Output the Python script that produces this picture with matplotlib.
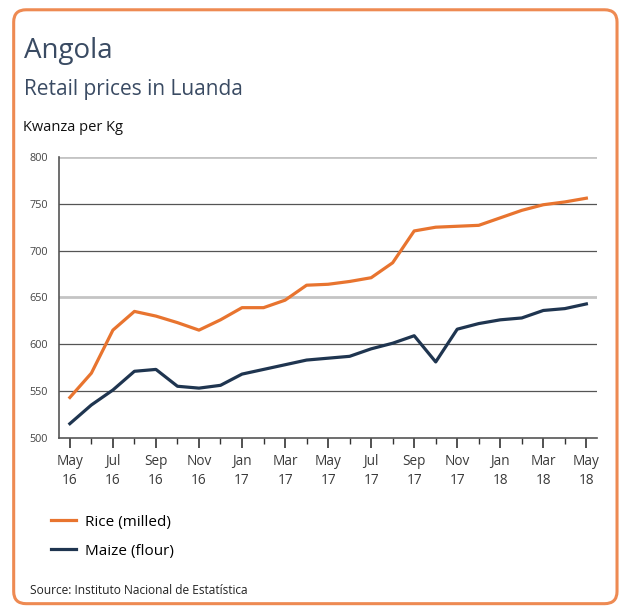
import matplotlib
matplotlib.use("Agg")
import matplotlib.pyplot as plt
from matplotlib.patches import FancyBboxPatch
import numpy as np

# Monthly retail prices, May 2016 - May 2018 (Kwanza per Kg)
months = ["May\n16", "", "Jul\n16", "", "Sep\n16", "", "Nov\n16", "", "Jan\n17", "",
          "Mar\n17", "", "May\n17", "", "Jul\n17", "", "Sep\n17", "", "Nov\n17", "",
          "Jan\n18", "", "Mar\n18", "", "May\n18"]
rice = [543, 569, 615, 635, 630, 623, 615, 626, 639, 639, 647, 663, 664,
        667, 671, 687, 721, 725, 726, 727, 735, 743, 749, 752, 756]
maize = [515, 535, 551, 571, 573, 555, 553, 556, 568, 573, 578, 583, 585,
         587, 595, 601, 609, 581, 616, 622, 626, 628, 636, 638, 643]
yticks = [500, 550, 600, 650, 700, 750, 800]

ORANGE = "#E8742F"
NAVY = "#1F3550"
TITLE = "#3A4B63"

plt.rcParams['font.family'] = ['Open Sans', 'DejaVu Sans']

fig = plt.figure(figsize=(6.22, 6.11), dpi=100)

# rounded orange frame
frame = FancyBboxPatch((0.022, 0.012), 0.97, 0.972,
                       boxstyle="round,pad=0,rounding_size=0.02",
                       transform=fig.transFigure, facecolor="none",
                       edgecolor="#EE8A52", linewidth=2.2, zorder=-1)
fig.patches.append(frame)

fig.text(0.038, 0.905, "Angola", fontsize=20, color=TITLE)
fig.text(0.038, 0.845, "Retail prices in Luanda", fontsize=15, color=TITLE)
fig.text(0.037, 0.785, "Kwanza per Kg", fontsize=10.5, color="#111111")

ax = fig.add_axes([0.095, 0.2836, 0.865, 0.4594])
ax.set_facecolor("none")
x = np.arange(len(months))
ax.plot(x, rice, color=ORANGE, lw=2.3, label="Rice (milled)", zorder=3)
ax.plot(x, maize, color=NAVY, lw=2.3, label="Maize (flour)", zorder=3)

ax.set_xlim(-0.5, 24.5)
ax.set_ylim(500, 800)
ax.set_yticks(yticks)
ax.set_yticklabels([str(v) for v in yticks], fontsize=7.8, color="#444444")
ax.tick_params(axis="y", length=0, pad=8)

for v in yticks[1:]:
    if v in (650, 800):
        ax.axhline(v, color="#C4C4C4", lw=2, zorder=1)
    else:
        ax.axhline(v, color="#555555", lw=0.9, zorder=1)

ax.set_xticks(x[::2])
ax.set_xticklabels([m for m in months if m], fontsize=9.8, color="#3A3A3A",
                   linespacing=1.35)
ax.set_xticks(x, minor=True)
ax.tick_params(axis="x", which="major", length=7, width=1.2, color="#333333", pad=5)
ax.tick_params(axis="x", which="minor", length=4, width=1, color="#333333")

for s in ["top", "right"]:
    ax.spines[s].set_visible(False)
ax.spines["left"].set_color("#555555")
ax.spines["bottom"].set_color("#555555")
ax.spines["left"].set_linewidth(1.2)
ax.spines["bottom"].set_linewidth(1.2)

fig.legend(loc="upper left", bbox_to_anchor=(0.06, 0.18), frameon=False,
           fontsize=11, handlelength=1.6, handletextpad=0.6, labelspacing=0.9)

fig.text(0.048, 0.028, "Source: Instituto Nacional de Estatística", fontsize=8.6, color="#222222")

fig.savefig("out.png", dpi=100)
